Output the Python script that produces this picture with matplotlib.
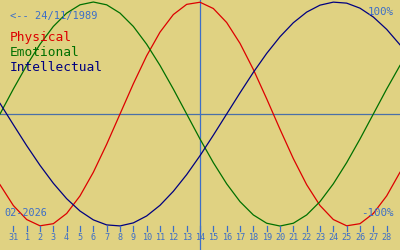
import matplotlib
matplotlib.use("Agg")
import matplotlib.pyplot as plt

# days of the shown span: 30 Jan .. 29 Feb index (0 = 31 Jan, 1 = 1 Feb ...)
days = list(range(-1, 30))
tick_days = list(range(0, 29))
tick_labels = ["31"] + [str(d) for d in range(1, 29)]

physical = [-0.631, -0.817, -0.942, -0.998, -0.979, -0.888, -0.731, -0.520, -0.270, 0.0,
            0.270, 0.520, 0.731, 0.888, 0.979, 0.998, 0.942, 0.817, 0.631, 0.398,
            0.136, -0.136, -0.398, -0.631, -0.817, -0.942, -0.998, -0.979, -0.888, -0.731,
            -0.520]
emotional = [0.0, 0.223, 0.434, 0.623, 0.782, 0.901, 0.975, 1.0, 0.975, 0.901,
             0.782, 0.623, 0.434, 0.223, 0.0, -0.223, -0.434, -0.623, -0.782, -0.901,
             -0.975, -1.0, -0.975, -0.901, -0.782, -0.623, -0.434, -0.223, 0.0, 0.223,
             0.434]
intellectual = [0.095, -0.095, -0.282, -0.458, -0.618, -0.756, -0.866, -0.945, -0.990, -0.999,
                -0.972, -0.910, -0.815, -0.690, -0.541, -0.372, -0.189, 0.0, 0.189, 0.372,
                0.541, 0.690, 0.815, 0.910, 0.972, 0.999, 0.990, 0.945, 0.866, 0.756,
                0.618]

today = 14
birth = "<-- 24/11/1989"
month = "02-2026"

BG = "#e0d282"
TXT = "#3c6ec8"
MONO = "DejaVu Sans Mono"

fig = plt.figure(figsize=(4, 2.5), dpi=100, facecolor=BG)
ax = fig.add_axes([0, 0, 1, 1], facecolor=BG)
ax.set_xlim(-1, 29)
ax.set_ylim(-1.214, 1.018)
ax.axis("off")

ax.axhline(0, color="#4a70a8", lw=0.9)
ax.axvline(today, color="#3c6ec8", lw=0.9)

ax.plot(days, physical, color="#dd0000", lw=0.9)
ax.plot(days, emotional, color="#007000", lw=0.9)
ax.plot(days, intellectual, color="#000080", lw=0.9)

# day ticks along the bottom
for d, lab in zip(tick_days, tick_labels):
    ax.plot([d, d], [-1.0, -1.045], color=TXT, lw=0.9)
    ax.text(d, -1.105, lab, color=TXT, fontsize=6.1, family=MONO, ha="center", va="center")

ax.text(0.025, 0.935, birth, transform=ax.transAxes, color=TXT, fontsize=7.5, family=MONO, va="center")
ax.text(0.025, 0.85, "Physical", transform=ax.transAxes, color="#dd0000", fontsize=9.3, family=MONO, va="center")
ax.text(0.025, 0.788, "Emotional", transform=ax.transAxes, color="#007000", fontsize=9.3, family=MONO, va="center")
ax.text(0.025, 0.73, "Intellectual", transform=ax.transAxes, color="#000080", fontsize=9.3, family=MONO, va="center")
ax.text(0.985, 0.953, "100%", transform=ax.transAxes, color=TXT, fontsize=7.8, family=MONO, ha="right", va="center")
ax.text(0.985, 0.15, "-100%", transform=ax.transAxes, color=TXT, fontsize=7.8, family=MONO, ha="right", va="center")
ax.text(0.012, 0.15, month, transform=ax.transAxes, color=TXT, fontsize=7.3, family=MONO, va="center")

fig.savefig("out.png", dpi=100, facecolor=BG)
